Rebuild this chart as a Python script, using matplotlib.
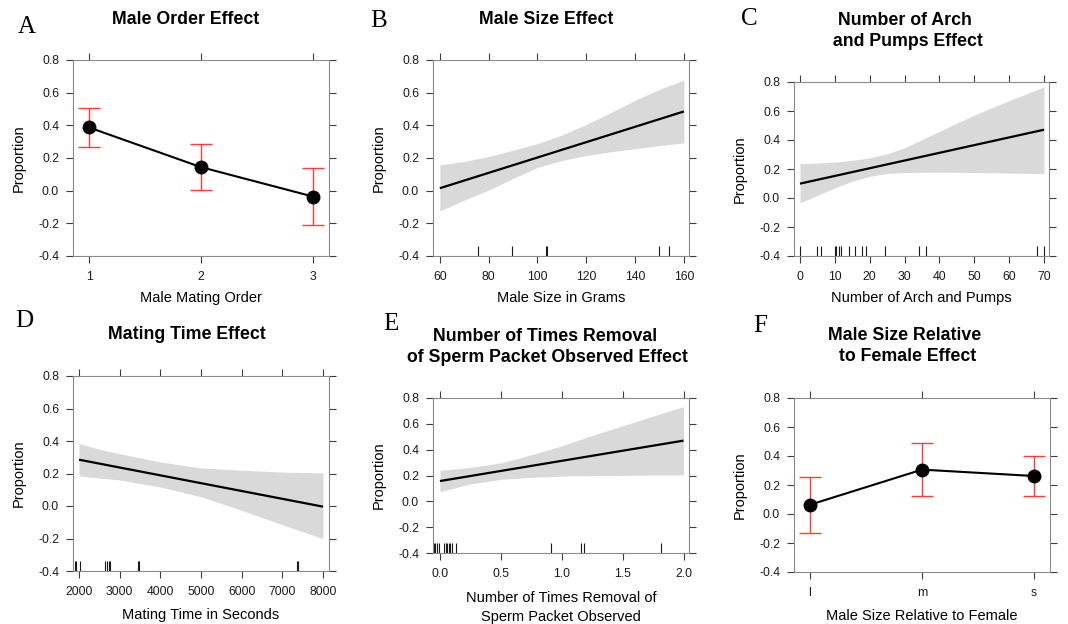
import matplotlib
matplotlib.use("Agg")
import matplotlib.pyplot as plt

# ---- data ----
order_x = [1, 2, 3]
order_labels = ["1", "2", "3"]
order_fit = [0.387, 0.144, -0.036]
order_lo = [0.269, 0.003, -0.212]
order_hi = [0.504, 0.283, 0.140]

size_x = [60, 70, 80, 90, 100, 110, 120, 130, 140, 150, 160]
size_hi = [0.158, 0.179, 0.209, 0.248, 0.288, 0.340, 0.405, 0.478, 0.553, 0.620, 0.677]
size_lo = [-0.124, -0.058, 0.003, 0.075, 0.142, 0.185, 0.215, 0.238, 0.257, 0.276, 0.293]
size_fit_x = [60, 160]
size_fit = [0.015, 0.485]
size_rug = [75.7, 89.6, 103.6, 103.9, 149.9, 153.8]
size_ticks = [60, 80, 100, 120, 140, 160]

arch_x = [0, 5, 10, 15, 20, 25, 30, 40, 50, 60, 70]
arch_hi = [0.237, 0.241, 0.248, 0.260, 0.277, 0.305, 0.346, 0.460, 0.572, 0.672, 0.766]
arch_lo = [-0.034, 0.018, 0.070, 0.116, 0.150, 0.169, 0.176, 0.178, 0.176, 0.172, 0.168]
arch_fit_x = [0, 70]
arch_fit = [0.099, 0.471]
arch_rug = [0, 5, 6, 9.9, 10.3, 11.3, 11.8, 14.1, 15.9, 17.8, 19.0, 24.4, 34.0, 36.1, 68.0, 70.0]
arch_ticks = [0, 10, 20, 30, 40, 50, 60, 70]

time_x = [2000, 2500, 3000, 4000, 5000, 6000, 7000, 8000]
time_hi = [0.384, 0.349, 0.322, 0.271, 0.234, 0.220, 0.209, 0.203]
time_lo = [0.185, 0.172, 0.160, 0.117, 0.057, -0.027, -0.115, -0.201]
time_fit_x = [2000, 8000]
time_fit = [0.285, -0.004]
time_rug = [1902, 1934, 2025, 2648, 2680, 2730, 2754, 3451, 3484, 7362, 7376]
time_ticks = [2000, 3000, 4000, 5000, 6000, 7000, 8000]

removal_x = [0, 0.25, 0.5, 0.75, 1.0, 1.25, 1.5, 1.75, 2.0]
removal_hi = [0.240, 0.262, 0.298, 0.360, 0.430, 0.510, 0.585, 0.660, 0.733]
removal_lo = [0.075, 0.135, 0.170, 0.186, 0.195, 0.199, 0.201, 0.203, 0.204]
removal_fit_x = [0, 2]
removal_fit = [0.157, 0.470]
removal_rug = [-0.049, -0.038, -0.025, -0.011, 0.036, 0.046, 0.057, 0.071, 0.082,
               0.096, 0.134, 0.915, 1.158, 1.180, 1.814]
removal_ticks = [0.0, 0.5, 1.0, 1.5, 2.0]

rel_x = [1, 2, 3]
rel_labels = ["l", "m", "s"]
rel_fit = [0.064, 0.306, 0.262]
rel_lo = [-0.129, 0.122, 0.122]
rel_hi = [0.253, 0.490, 0.402]

y_ticks = [-0.4, -0.2, 0.0, 0.2, 0.4, 0.6, 0.8]

# ---- style ----
W, H = 1068, 624
SANS = ["Liberation Sans", "DejaVu Sans"]
SERIF = ["Liberation Serif", "DejaVu Serif"]
BAND = "#d9d9d9"
RED = "#ff3b3b"
BOX = "#8a8a8a"
TICK = "#3c3c3c"
RUG_PX = 10

plt.rcParams["font.family"] = SANS
plt.rcParams["axes.unicode_minus"] = False


def put_text(fig, x, y, s, **kw):
    """place text at pixel coords (y from top)"""
    fig.text(x / W, 1 - y / H, s, **kw)


def add_panel(fig, box, xlim, xticks, xlabels):
    left, top, right, bottom = box
    ax = fig.add_axes([left / W, 1 - bottom / H, (right - left) / W, (bottom - top) / H])
    ax.set_xlim(*xlim)
    ax.set_ylim(-0.4, 0.8)
    ax.set_xticks(xticks)
    ax.set_xticklabels(xlabels)
    ax.set_yticks(y_ticks)
    ax.set_yticklabels([f"{v:.1f}" for v in y_ticks])
    for sp in ax.spines.values():
        sp.set_color(BOX)
        sp.set_linewidth(0.8)
    ax.tick_params(direction="out", length=5, width=0.8, color=TICK,
                   top=True, right=True, labeltop=False, labelright=False,
                   labelsize=8.8, labelcolor="#1a1a1a", pad=5)
    ax.tick_params(axis="x", pad=5.5)
    ax.patch.set_facecolor("white")
    return ax


def decorate(fig, box, letter, letter_pos, title_lines, title_x, title_base,
             xlabel_lines, xlabel_base):
    left, top, right, bottom = box
    put_text(fig, letter_pos[0], letter_pos[1], letter, family=SERIF, fontsize=18,
             ha="center", va="baseline")
    for i, line in enumerate(title_lines):
        put_text(fig, title_x, title_base + 20.7 * i, line, fontsize=12.8,
                 fontweight="bold", ha="center", va="baseline")
    for i, line in enumerate(xlabel_lines):
        put_text(fig, (left + right) / 2, xlabel_base + 18.5 * i, line, fontsize=10.5,
                 ha="center", va="baseline")
    put_text(fig, left - 54, (top + bottom) / 2, "Proportion", fontsize=10.5,
             rotation=90, ha="center", va="center")


def plot_factor(ax, x, fit, lo, hi):
    yerr = [[f - l for f, l in zip(fit, lo)], [h - f for f, h in zip(fit, hi)]]
    ax.errorbar(x, fit, yerr=yerr, fmt="none", ecolor=RED, elinewidth=1,
                capsize=8, capthick=1, zorder=2)
    ax.plot(x, fit, color="black", lw=1.5, marker="o", ms=9, zorder=3)


def plot_numeric(ax, bx, lo, hi, fx, fit, rug, box):
    ax.fill_between(bx, lo, hi, color=BAND, lw=0, zorder=1)
    ax.plot(fx, fit, color="black", lw=1.6, zorder=3, solid_capstyle="butt")
    frac = RUG_PX / (box[3] - box[1])
    ax.vlines(rug, 0, frac, transform=ax.get_xaxis_transform(), color="#1a1a1a",
              lw=0.8, zorder=2)


fig = plt.figure(figsize=(W / 100, H / 100), dpi=100)

# A
box_a = (73, 60, 329, 256)
ax = add_panel(fig, box_a, (0.857, 3.143), order_x, order_labels)
plot_factor(ax, order_x, order_fit, order_lo, order_hi)
decorate(fig, box_a, "A", (27, 33), ["Male Order Effect"], 186, 24,
         ["Male Mating Order"], 302)

# B
box_b = (433, 60, 689, 256)
ax = add_panel(fig, box_b, (57.2, 162.1), size_ticks, [str(t) for t in size_ticks])
plot_numeric(ax, size_x, size_lo, size_hi, size_fit_x, size_fit, size_rug, box_b)
decorate(fig, box_b, "B", (379, 27), ["Male Size Effect"], 546, 24,
         ["Male Size in Grams"], 302)

# C
box_c = (794, 82, 1049, 256)
ax = add_panel(fig, box_c, (-1.72, 71.43), arch_ticks, [str(t) for t in arch_ticks])
plot_numeric(ax, arch_x, arch_lo, arch_hi, arch_fit_x, arch_fit, arch_rug, box_c)
decorate(fig, box_c, "C", (749, 25), ["Number of Arch", " and Pumps Effect"], 905, 25,
         ["Number of Arch and Pumps"], 302)

# D
box_d = (73, 376, 329, 571)
ax = add_panel(fig, box_d, (1852, 8148), time_ticks, [str(t) for t in time_ticks])
plot_numeric(ax, time_x, time_lo, time_hi, time_fit_x, time_fit, time_rug, box_d)
decorate(fig, box_d, "D", (24, 327), ["Mating Time Effect"], 187, 339,
         ["Mating Time in Seconds"], 619)

# E
box_e = (433, 398, 689, 553)
ax = add_panel(fig, box_e, (-0.057, 2.045), removal_ticks,
               [f"{t:.1f}" for t in removal_ticks])
plot_numeric(ax, removal_x, removal_lo, removal_hi, removal_fit_x, removal_fit,
             removal_rug, box_e)
decorate(fig, box_e, "E", (391, 330),
         ["Number of Times Removal", " of Sperm Packet Observed Effect"], 545, 341,
         ["Number of Times Removal of", "Sperm Packet Observed"], 602)

# F
box_f = (794, 398, 1050, 572)
ax = add_panel(fig, box_f, (0.857, 3.143), rel_x, rel_labels)
plot_factor(ax, rel_x, rel_fit, rel_lo, rel_hi)
decorate(fig, box_f, "F", (760, 332), ["Male Size Relative", " to Female Effect"], 905, 340,
         ["Male Size Relative to Female"], 620)

fig.savefig("out.png", dpi=100, facecolor="white")
